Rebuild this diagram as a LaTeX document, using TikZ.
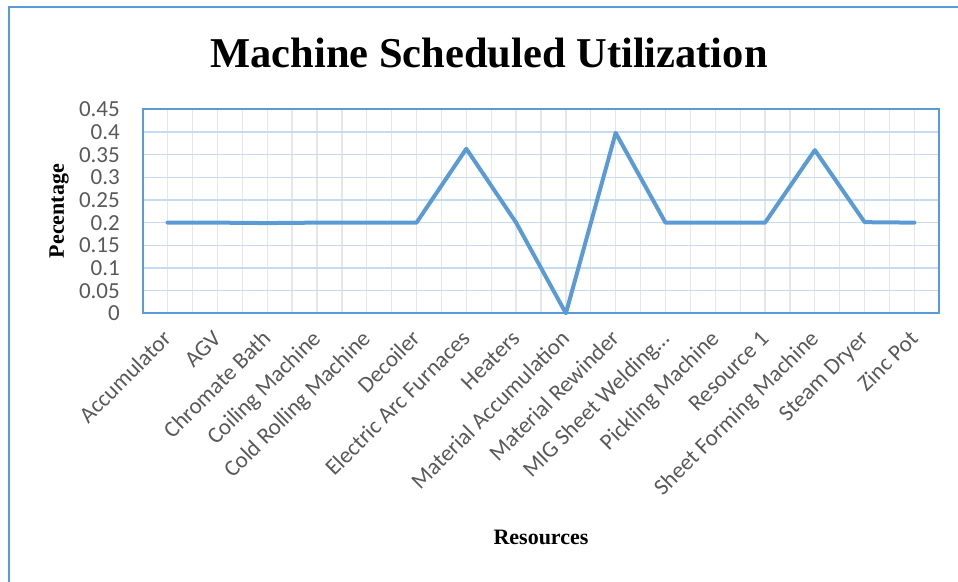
\documentclass[tikz,border=0pt]{standalone}
\usepackage{fontspec}
\setmainfont{Liberation Serif}
\newfontfamily\calib{Carlito}
\definecolor{lineblue}{HTML}{5B9BD5}
\definecolor{hgrid}{HTML}{C6DBEF}
\definecolor{vgrid}{HTML}{E6E6E6}
\definecolor{ticktext}{HTML}{595959}
\begin{document}
\begin{tikzpicture}[x=1pt,y=-1pt,
  frame/.style={draw=lineblue,line width=2pt},
  hgridline/.style={draw=hgrid,line width=1.3pt},
  vgridline/.style={draw=vgrid,line width=1.3pt},
  plotborder/.style={draw=lineblue,line width=2pt},
  series/.style={draw=lineblue,line width=4pt,line join=round,line cap=round},
  ytick/.style={font=\calib\fontsize{23}{23}\selectfont,text=ticktext,anchor=east,inner sep=0pt},
  xtick/.style={font=\calib\fontsize{23}{23}\selectfont,text=ticktext,anchor=base east,rotate=45,inner sep=0pt},
  titletext/.style={font=\bfseries\fontsize{42.5}{42.5}\selectfont},
  axistitle/.style={font=\bfseries\fontsize{22}{22}\selectfont}]
\useasboundingbox (0,0) rectangle (958,581);
% outer chart frame (right and bottom edges fall outside the page)
\draw[frame] (8.5,600) -- (8.5,6.5) -- (970,6.5);

% plot area geometry
\def\xl{142.7}\def\xr{939.3}\def\yt{109.3}\def\yb{313.3}
\pgfmathsetmacro{\cw}{(\xr-\xl)/16}
\pgfmathsetmacro{\ys}{(\yb-\yt)/0.45}

% gridlines
\foreach \k in {1,...,31}
  \draw[vgridline] ({\xl+\k*\cw/2},\yt) -- ({\xl+\k*\cw/2},\yb);
\foreach \k in {1,...,8}
  \draw[hgridline] (\xl,{\yb-\k*0.05*\ys}) -- (\xr,{\yb-\k*0.05*\ys});
\draw[plotborder] (\xl,\yt) rectangle (\xr,\yb);

% y axis labels
\foreach \v/\t [count=\i] in {0/0,0.05/0.05,0.1/0.1,0.15/0.15,0.2/0.2,0.25/0.25,0.3/0.3,0.35/0.35,0.4/0.4,0.45/0.45}
  \node[ytick] (ylab\i) at (120,{\yb-\v*\ys}) {\t};

% data points
\foreach \v [count=\i] in {0.2,0.2,0.199,0.2,0.2,0.2,0.363,0.2,0,0.398,0.2,0.2,0.2,0.36,0.201,0.2}
  \coordinate (p\i) at ({\xl+(\i-0.5)*\cw},{\yb-\v*\ys});
\draw[series] (p1) \foreach \i in {2,...,16} { -- (p\i) };

% category labels
\foreach \t [count=\i] in {Accumulator,AGV,Chromate Bath,Coiling Machine,Cold Rolling Machine,Decoiler,Electric Arc Furnaces,Heaters,Material Accumulation,Material Rewinder,MIG Sheet Welding\ldots,Pickling Machine,Resource 1,Sheet Forming Machine,Steam Dryer,Zinc Pot}
  \node[xtick] (xlab\i) at ({\xl+(\i-0.5)*\cw+5},340) {\t};

% titles
\node[titletext] (title) at (489,53) {Machine Scheduled Utilization};
\node[axistitle,rotate=90] (ytitle) at (59,211) {Pecentage};
\node[axistitle] (xtitle) at (541,537) {Resources};
\end{tikzpicture}
\end{document}
